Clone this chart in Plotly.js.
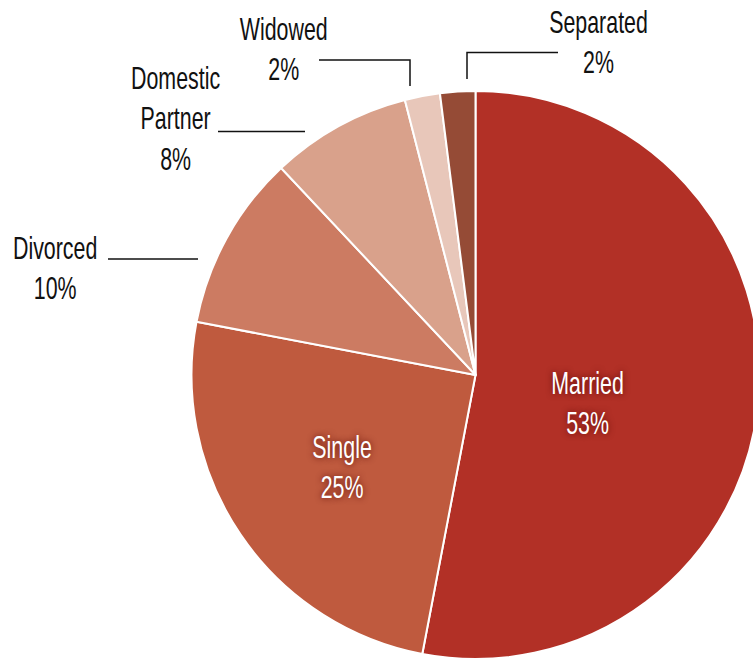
<!DOCTYPE html>
<html><head><meta charset="utf-8">
<script src="https://cdn.plot.ly/plotly-3.0.1.min.js"></script>
<style>html,body{margin:0;padding:0;overflow:hidden;background:#fff}#chart{width:753px;height:659px;overflow:hidden}</style>
</head><body><div id="chart"></div>
<script>
const labels = ["Married", "Single", "Divorced", "Domestic<br>Partner", "Widowed", "Separated"];
const values = [53, 25, 10, 8, 2, 2];
const colors = ["#B23026", "#BF5A3E", "#CC7B62", "#D9A18B", "#E8C7BA", "#954B36"];

const W = 762, H = 659;
const px = x => x / W, py = y => 1 - y / H;
const total = values.reduce((a, b) => a + b, 0);
const pct = values.map(v => Math.round(v / total * 100) + "%");

// label block centres (px) and whether inside (white) text
const labelPos = [[587, 403, true], [342, 467, true], [55, 268, false], [175, 119, false], [284, 49, false], [598, 42, false]];
const FONT = "'Liberation Sans', Arial, sans-serif";
const SQUEEZE = 0.69;

const annotations = labels.map((l, i) => ({
  xref: "paper", yref: "paper",
  x: px(labelPos[i][0]), y: py(labelPos[i][1]),
  xanchor: "center", yanchor: "middle", showarrow: false,
  text: l + "<br>" + pct[i],
  font: labelPos[i][2]
    ? {family: FONT, size: 31, color: "#ffffff", shadow: "0px 0px 7px rgba(90,10,5,0.9)"}
    : {family: FONT, size: 31, color: "#111111"}
}));

const leader = (pts) => ({
  type: "path", xref: "paper", yref: "paper",
  path: "M" + pts.map(p => px(p[0]) + "," + py(p[1])).join(" L"),
  line: {color: "#111111", width: 1.5}
});
const shapes = [
  leader([[319, 60], [410, 60], [410, 86]]),
  leader([[218, 131.5], [305, 131.5]]),
  leader([[108, 259], [198, 259]]),
  leader([[558, 52.5], [467, 52.5], [467, 79]])
];

const cx = 475.5, cy = 375, r = 284;
Plotly.newPlot("chart", [{
  type: "pie",
  labels: labels, values: values,
  sort: false, direction: "clockwise", rotation: 0,
  marker: {colors: colors, line: {color: "#ffffff", width: 2}},
  textinfo: "none", hoverinfo: "label+percent",
  domain: {x: [px(cx - r), px(cx + r)], y: [Math.max(0, py(cy + r)), py(cy - r)]},
  showlegend: false
}], {
  width: W, height: H,
  margin: {l: 0, r: 0, t: 0, b: 0},
  paper_bgcolor: "#ffffff",
  annotations: annotations,
  shapes: shapes
}, {displayModeBar: false, staticPlot: true}).then(gd => {
  // condense the label text horizontally about its own centre
  gd.querySelectorAll("text.annotation-text").forEach(t => {
    const b = t.getBBox();
    const c = b.x + b.width / 2;
    t.setAttribute("transform", `translate(${c},0) scale(${SQUEEZE},1) translate(${-c},0)`);
  });
});
</script></body></html>
